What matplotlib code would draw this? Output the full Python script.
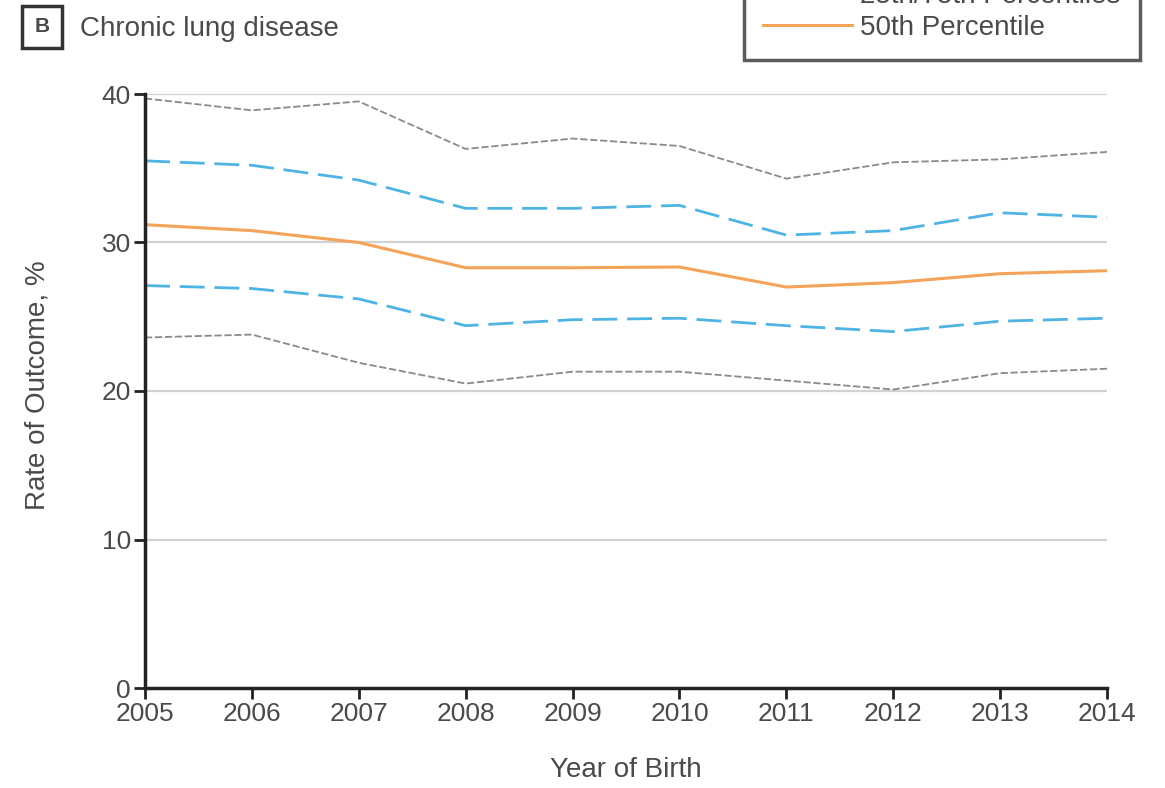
import matplotlib
matplotlib.use("Agg")
import matplotlib.pyplot as plt
from matplotlib.lines import Line2D
from matplotlib import patches

plt.rcParams['font.family'] = ['Liberation Sans', 'DejaVu Sans']

years = [2005, 2006, 2007, 2008, 2009, 2010, 2011, 2012, 2013, 2014]
p90 = [39.7, 38.9, 39.5, 36.3, 37.0, 36.5, 34.3, 35.4, 35.6, 36.1]
p75 = [35.5, 35.2, 34.2, 32.3, 32.3, 32.5, 30.5, 30.8, 32.0, 31.7]
p50 = [31.2, 30.8, 30.0, 28.3, 28.3, 28.35, 27.0, 27.3, 27.9, 28.1]
p25 = [27.1, 26.9, 26.2, 24.4, 24.8, 24.9, 24.4, 24.0, 24.7, 24.9]
p10 = [23.6, 23.8, 21.9, 20.5, 21.3, 21.3, 20.7, 20.1, 21.2, 21.5]
yticks = [0, 10, 20, 30, 40]

gray = "#8a8a8a"
blue = "#4fb3e3"
orange = "#f4a45a"
text_col = "#4a4a4a"
W, H = 1165, 788

fig = plt.figure(figsize=(W / 100, H / 100), dpi=100)
ax = fig.add_axes([145 / W, 1 - 688 / H, 962 / W, 594 / H])

for y in yticks[1:]:
    ax.axhline(y, color="#d2d2d2", lw=1.6, zorder=0)

gray_ls = (0, (4, 1.5))
blue_ls = (0, (9, 3.5))
ax.plot(years, p90, color=gray, lw=1.3, ls=gray_ls)
ax.plot(years, p10, color=gray, lw=1.3, ls=gray_ls)
ax.plot(years, p75, color=blue, lw=2.0, ls=blue_ls)
ax.plot(years, p25, color=blue, lw=2.0, ls=blue_ls)
ax.plot(years, p50, color=orange, lw=2.2)

ax.set_xlim(2005, 2014)
ax.set_ylim(0, 40)
ax.set_xticks(years)
ax.set_yticks(yticks)
ax.tick_params(axis="both", colors="#222222", labelcolor=text_col, labelsize=19,
               length=8, width=2, direction="out", pad=2)
ax.spines["top"].set_visible(False)
ax.spines["right"].set_visible(False)
ax.spines["left"].set_linewidth(2.5)
ax.spines["bottom"].set_linewidth(2.5)
ax.spines["left"].set_color("#222222")
ax.spines["bottom"].set_color("#222222")

fig.text(626 / W, 1 - 770 / H, "Year of Birth", fontsize=20, color=text_col,
         ha="center", va="center")
fig.text(38 / W, 1 - 385 / H, "Rate of Outcome, %", fontsize=20, color=text_col,
         ha="center", va="center", rotation=90)

# legend box, partly cut off at top of figure as in the source
handles = [
    Line2D([], [], color=blue, lw=2.0, ls=blue_ls),
    Line2D([], [], color=orange, lw=2.2),
]
labels = ["25th/75th Percentiles", "50th Percentile"]
leg = fig.legend(handles, labels, loc="lower right",
                 bbox_to_anchor=(1140 / W, 1 - 60 / H),
                 fontsize=20, frameon=True, fancybox=False,
                 handlelength=3.2, handletextpad=0.3, labelspacing=0.2,
                 borderpad=0.7, borderaxespad=0, labelcolor=text_col)
leg.get_frame().set_edgecolor("#333333")
leg.get_frame().set_linewidth(2.5)

# panel letter box and title
fig.add_artist(patches.Rectangle((22 / W, 1 - 48 / H), 40 / W, 42 / H,
                                 transform=fig.transFigure, fill=False,
                                 ec="#333333", lw=2.5))
fig.text(42 / W, 1 - 27 / H, "B", fontsize=15, color=text_col,
         ha="center", va="center", fontweight="bold")
fig.text(80 / W, 1 - 29 / H, "Chronic lung disease", fontsize=20,
         color=text_col, ha="left", va="center")

fig.savefig("out.png", dpi=100)
